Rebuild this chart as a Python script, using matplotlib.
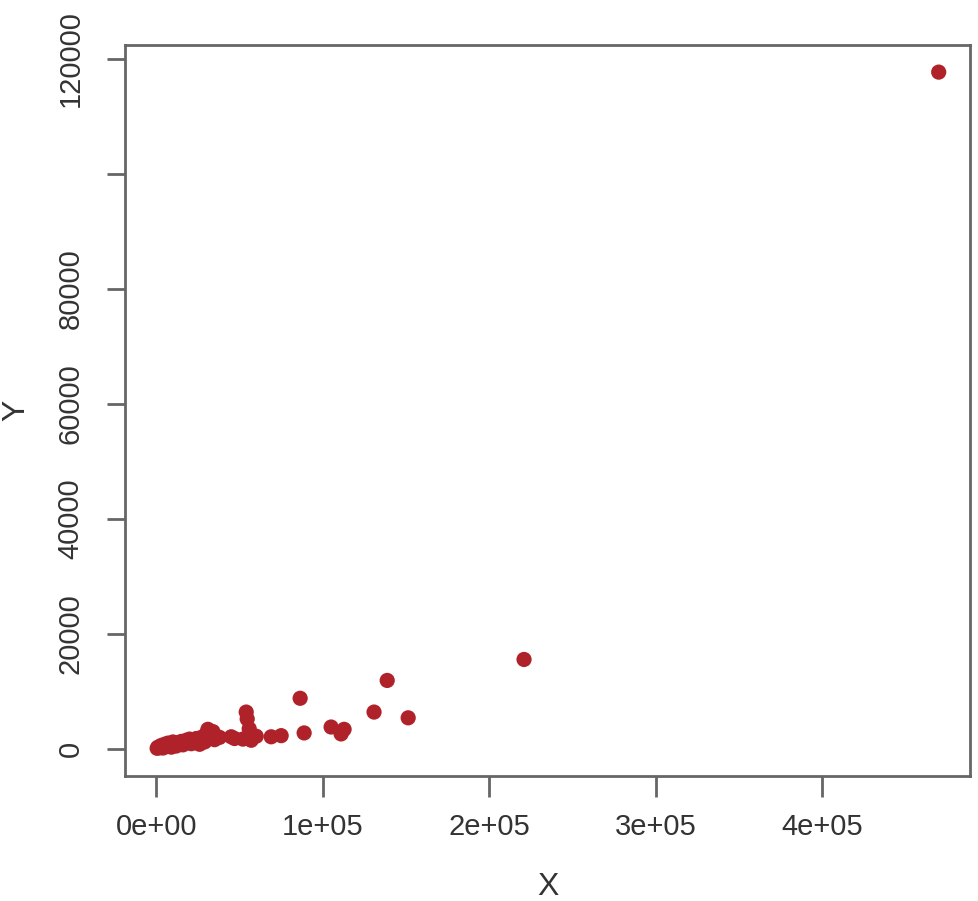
import matplotlib.pyplot as plt

# Colours
POINT_RED = '#b0222a'
AXIS_GRAY = '#666666'
TEXT_GRAY = '#333333'

# Data
x_vals = [500, 1000, 2000, 3000, 4000, 5000, 6000, 7000, 8000, 9000,
          10000, 11000, 12000, 13000, 14000, 15000, 16000, 17000, 18000, 19000,
          20000, 21000, 22000, 23000, 24000, 25000, 26000, 27000, 28000, 29000,
          30000, 31000, 32000, 33000, 34000, 35000, 38000, 45000, 47000, 52000,
          54000, 54600, 55800, 56000, 57000, 60000, 69000, 75000, 88800, 86400,
          105000, 111000, 112800, 130800, 138700, 151300, 220900, 470000]
y_vals = [100, 300, 200, 600, 150, 800, 400, 1000, 600, 300,
          1200, 800, 500, 1100, 900, 1300, 700, 1000, 1500, 1200,
          1700, 900, 1400, 1100, 1800, 1300, 800, 2000, 1500, 1200,
          2600, 3400, 1800, 2300, 3000, 1600, 2000, 2100, 1800, 1700,
          6400, 5200, 3500, 2400, 1500, 2200, 2100, 2300, 2770, 8800,
          3800, 2600, 3400, 6400, 11900, 5400, 15550, 117700]
x_ticks = [0, 100000, 200000, 300000, 400000]
x_tick_labels = ['0e+00', '1e+05', '2e+05', '3e+05', '4e+05']
y_ticks = [0, 20000, 40000, 60000, 80000, 100000, 120000]
y_tick_labels = ['0', '20000', '40000', '60000', '80000', '', '120000']

plt.rcParams['font.family'] = ['Liberation Sans', 'DejaVu Sans']

fig = plt.figure(figsize=(9.79, 9.01), dpi=100)
ax = fig.add_axes([0.1277, 0.1388, 0.8631, 0.8112])

ax.scatter(x_vals, y_vals, s=120, color=POINT_RED, edgecolors='none', zorder=3)

# R style range: data range padded by 4 percent
x_pad = (max(x_vals) - 0) * 0.04
y_pad = (max(y_vals) - 0) * 0.04
ax.set_xlim(0 - x_pad, max(x_vals) + x_pad)
ax.set_ylim(0 - y_pad, max(y_vals) + y_pad)

ax.set_xticks(x_ticks)
ax.set_xticklabels(x_tick_labels)
ax.set_yticks(y_ticks)
ax.set_yticklabels(y_tick_labels, rotation=90, va='center')

for spine in ax.spines.values():
    spine.set_color(AXIS_GRAY)
    spine.set_linewidth(2)

ax.tick_params(axis='x', length=15, width=2, color=AXIS_GRAY, labelsize=21,
               labelcolor=TEXT_GRAY, pad=12)
ax.tick_params(axis='y', length=13, width=2, color=AXIS_GRAY, labelsize=21,
               labelcolor=TEXT_GRAY, pad=16)

ax.set_xlabel('X', fontsize=23, color=TEXT_GRAY, labelpad=22)
ax.set_ylabel('Y', fontsize=23, color=TEXT_GRAY, labelpad=18)

fig.savefig('out.png', dpi=100)
